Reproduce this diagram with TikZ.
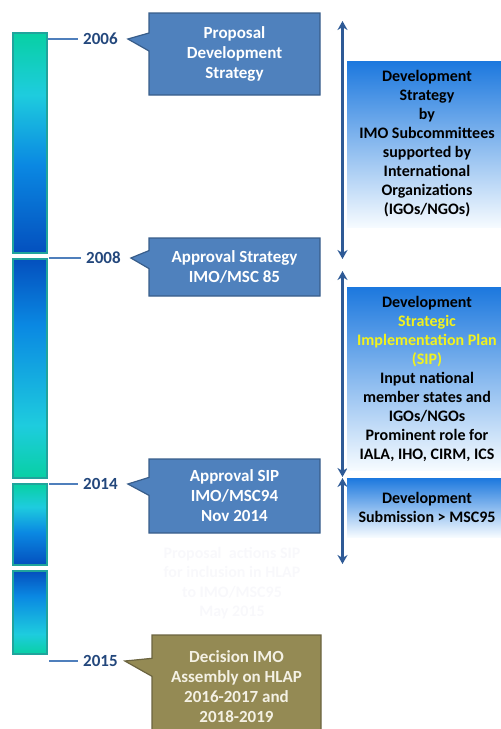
\documentclass[tikz,border=0pt]{standalone}
\usepackage{fontspec}
\setmainfont{Carlito}
\usetikzlibrary{shapes.callouts,arrows.meta}

\definecolor{barteal}{HTML}{08D0A4}
\definecolor{barcyan}{HTML}{1ECCDE}
\definecolor{barblue}{HTML}{0A88E2}
\definecolor{bardark}{HTML}{0450BE}
\definecolor{barline}{HTML}{20A49C}
\definecolor{tickblue}{HTML}{4F7FBC}
\definecolor{yearblue}{HTML}{23477C}
\definecolor{calloutblue}{HTML}{4F81BD}
\definecolor{calloutline}{HTML}{385D8A}
\definecolor{hlapolive}{HTML}{948A54}
\definecolor{hlapline}{HTML}{6B6440}
\definecolor{hlaptext}{HTML}{F4F1E4}
\definecolor{phaseblue}{HTML}{2E5A96}
\definecolor{devtop}{HTML}{1C78DE}
\definecolor{devmid}{HTML}{9FCBF1}
\definecolor{devbot}{HTML}{F6FBFF}
\definecolor{sipyellow}{HTML}{F2F21C}
\definecolor{ghost}{HTML}{F8F8FB}

\pgfdeclareverticalshading{bardown}{100bp}{color(0bp)=(bardark); color(25bp)=(bardark); color(45bp)=(barblue); color(61bp)=(barcyan); color(75bp)=(barteal); color(100bp)=(barteal)}
\pgfdeclareverticalshading{barup}{100bp}{color(0bp)=(barteal); color(25bp)=(barteal); color(37bp)=(barcyan); color(60bp)=(barblue); color(75bp)=(bardark); color(100bp)=(bardark)}

\begin{document}
\begin{tikzpicture}[x=1pt,y=-1pt,
  barseg/.style={draw=barline, line width=1.5pt, minimum width=34pt, inner sep=0pt},
  yeartick/.style={draw=tickblue, line width=2.5pt},
  year/.style={anchor=west, inner sep=5pt, text=yearblue, font=\bfseries\fontsize{17}{20}\selectfont},
  callbox/.style={rectangle callout, fill=calloutblue, draw=calloutline, line width=1.2pt,
    callout pointer width=18pt, minimum width=171pt, inner sep=0pt, text=white, align=center,
    font=\bfseries\fontsize{17}{20}\selectfont},
  devbox/.style={top color=devtop, middle color=devmid, bottom color=devbot, minimum width=160pt,
    inner sep=0pt, align=center, font=\bfseries\fontsize{16}{19}\selectfont},
  phase/.style={draw=phaseblue, line width=3pt, arrows={Stealth[length=9pt,width=10pt]-Stealth[length=9pt,width=10pt]}},
]
\useasboundingbox (0,0) rectangle (501,729);

% timeline bar
\node[barseg, shading=bardown, minimum height=220pt] (s1) at (30,143) {};
\node[barseg, shading=barup, minimum height=219pt] (s2) at (30,368.5) {};
\node[barseg, shading=bardown, minimum height=81pt] (s3) at (30,524.5) {};
\node[barseg, shading=barup, minimum height=83pt] (s4) at (30,612.5) {};

% years
\coordinate (t06) at (48,39);
\coordinate (t08) at (49,258);
\coordinate (t14) at (49,484);
\coordinate (t15) at (49,661);
\node[year] (y06) at (78,39) {2006};
\node[year] (y08) at (81,258) {2008};
\node[year] (y14) at (78,484) {2014};
\node[year] (y15) at (78,661) {2015};
\draw[yeartick] (t06) -- (y06.west);
\draw[yeartick] (t08) -- (y08.west);
\draw[yeartick] (t14) -- (y14.west);
\draw[yeartick] (t15) -- (y15.west);

% milestones
\node[callbox, minimum height=82pt, callout absolute pointer={([xshift=5pt]y06.east)}] (c06) at (234.5,54) {Proposal\\Development\\Strategy};
\node[callbox, minimum height=58pt, callout absolute pointer={([xshift=5pt]y08.east)}] (c08) at (234.5,267) {Approval Strategy\\IMO/MSC 85};
\node[callbox, minimum height=74pt, callout absolute pointer={([xshift=5pt]y14.east)}] (c14) at (234.5,496) {Approval SIP\\IMO/MSC94\\Nov 2014};
\node[callbox, fill=hlapolive, draw=hlapline, text=hlaptext, minimum width=169pt, minimum height=104pt,
  callout absolute pointer={([xshift=2pt]y15.east)}] (c15) at (236.5,687) {Decision IMO\\Assembly on HLAP\\2016-2017 and\\2018-2019};
\node[text=ghost, align=center, font=\bfseries\fontsize{16}{19.5}\selectfont] (gh) at (232,583) {Proposal\ \ actions SIP\\for inclusion in HLAP\\to IMO/MSC95\\May 2015};

% phases
\coordinate (p1a) at (342.5,21);
\coordinate (p1b) at (342.5,259);
\coordinate (p2a) at (342.5,271);
\coordinate (p2b) at (342.5,477);
\coordinate (p3a) at (342.5,478);
\coordinate (p3b) at (342.5,564);
\draw[phase] (p1a) -- (p1b);
\draw[phase] (p2a) -- (p2b);
\draw[phase] (p3a) -- (p3b);

\node[devbox, minimum height=166pt] (d1) at (427,144) {Development\\Strategy\\by\\IMO Subcommittees\\supported by\\International\\Organizations\\(IGOs/NGOs)};
\node[devbox, minimum height=183pt] (d2) at (427,378.5) {Development\\\textcolor{sipyellow}{Strategic}\\\textcolor{sipyellow}{Implementation Plan}\\\textcolor{sipyellow}{(SIP)}\\Input national\\member states and\\IGOs/NGOs\\Prominent role for\\IALA, IHO, CIRM, ICS};
\node[devbox, minimum height=59pt] (d3) at (427,507.5) {Development\\Submission > MSC95};
\end{tikzpicture}
\end{document}
